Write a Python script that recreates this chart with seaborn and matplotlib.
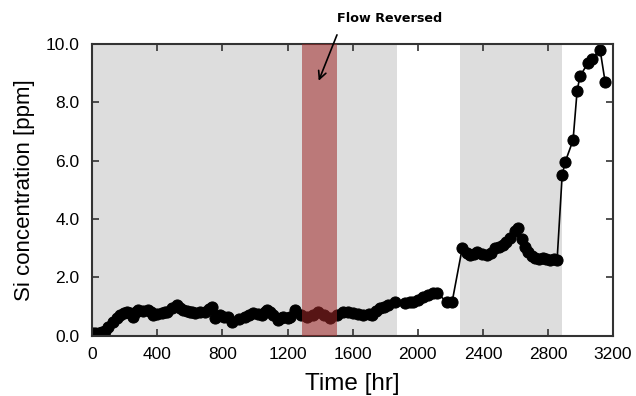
import numpy as np
import pandas as pd
import matplotlib
matplotlib.use("Agg")
import matplotlib.pyplot as plt
import seaborn as sns

# Silicon concentration readings
time_hr = [0, 20, 40, 60, 80, 100, 129, 150, 172, 195, 215, 235, 252, 270, 283, 310,
           344, 360, 375, 400, 430, 445, 461, 490, 522, 540, 559, 580, 602, 615, 633,
           660, 694, 715, 737, 755, 770, 786, 810, 835, 860, 900, 940, 965, 989, 1020,
           1044, 1060, 1075, 1095, 1112, 1142, 1160, 1173, 1200, 1216, 1247, 1280,
           1321, 1355, 1388, 1425, 1462, 1505, 1542, 1570, 1603, 1635, 1665, 1700,
           1720, 1745, 1769, 1795, 1818, 1861, 1923, 1950, 1972, 2000, 2033, 2060,
           2094, 2120, 2180, 2211,
           2273, 2300, 2322, 2345, 2365, 2395, 2426, 2450, 2475, 2500, 2524, 2545,
           2567, 2598, 2617, 2641, 2660, 2678, 2700, 2721, 2745, 2770, 2790, 2813,
           2835, 2856,
           2887, 2905, 2954, 2979, 2997, 3047, 3071, 3120, 3151]
si_ppm = [0.10, 0.10, 0.10, 0.12, 0.15, 0.30, 0.48, 0.62, 0.72, 0.78, 0.82, 0.78, 0.65,
          0.80, 0.89, 0.85, 0.89, 0.80, 0.72, 0.76, 0.79, 0.80, 0.82, 0.95, 1.06, 0.95,
          0.89, 0.85, 0.82, 0.80, 0.79, 0.80, 0.82, 0.92, 1.00, 0.62, 0.68, 0.72, 0.66,
          0.65, 0.48, 0.58, 0.65, 0.72, 0.79, 0.75, 0.72, 0.80, 0.89, 0.80, 0.72, 0.55,
          0.62, 0.65, 0.62, 0.65, 0.89, 0.70,
          0.65, 0.72, 0.82, 0.70, 0.62, 0.72, 0.82, 0.82, 0.79, 0.75, 0.72, 0.75,
          0.72, 0.85, 0.96, 1.00, 1.06, 1.16, 1.13, 1.15, 1.16, 1.22, 1.33, 1.40,
          1.47, 1.45, 1.16, 1.16,
          3.00, 2.85, 2.77, 2.82, 2.87, 2.80, 2.77, 2.85, 3.00, 3.05, 3.10, 3.20,
          3.36, 3.60, 3.70, 3.30, 3.05, 2.88, 2.75, 2.67, 2.62, 2.67, 2.62, 2.60,
          2.62, 2.60,
          5.50, 5.95, 6.70, 8.40, 8.90, 9.36, 9.50, 9.80, 8.70]

df = pd.DataFrame({"Time [hr]": time_hr, "Si concentration [ppm]": si_ppm})

# operating periods (shaded) and the flow reversal window
gray_spans = [(0, 1875), (2260, 2885)]
reversed_span = (1290, 1505)

x_ticks = [0, 400, 800, 1200, 1600, 2000, 2400, 2800, 3200]
y_ticks = [0.0, 2.0, 4.0, 6.0, 8.0, 10.0]

sns.set_style("ticks")
plt.rcParams["font.family"] = ["Liberation Sans", "DejaVu Sans"]
plt.rcParams["text.color"] = "black"
plt.rcParams["axes.labelcolor"] = "black"

fig = plt.figure(figsize=(6.36, 3.96), dpi=100)
ax = fig.add_axes([0.145, 0.152, 0.819, 0.737])

for a, b in gray_spans:
    ax.axvspan(a, b, color="#dddddd", zorder=0, lw=0)

sns.lineplot(data=df, x="Time [hr]", y="Si concentration [ppm]", ax=ax,
             color="black", marker="o", markersize=8, linewidth=1.2,
             markeredgecolor="black", zorder=2)

ax.axvspan(*reversed_span, color="#a02828", alpha=0.55, zorder=3, lw=0)

ax.set_xlim(0, 3200)
ax.set_ylim(0, 10)
ax.set_xticks(x_ticks)
ax.set_yticks(y_ticks)
ax.set_yticklabels([f"{v:.1f}" for v in y_ticks])
ax.tick_params(direction="in", length=5, width=1.2, top=True, right=True,
               labelsize=12.5, colors="#333333", labelcolor="black")
ax.tick_params(axis="x", pad=8)
ax.tick_params(axis="y", pad=9)
for s in ax.spines.values():
    s.set_linewidth(1.5)
    s.set_color("#333333")

ax.set_xlabel("Time [hr]", fontsize=17.5, labelpad=8, color="black")
ax.set_ylabel("Si concentration [ppm]", fontsize=16, labelpad=8, color="black")

ax.text(1830, 10.88, "Flow Reversed", ha="center", va="center", fontsize=9.2,
        fontweight="bold", family="DejaVu Sans", color="black", clip_on=False)
ax.annotate("", xy=(1385, 8.65), xytext=(1510, 10.4),
            arrowprops=dict(arrowstyle="->", color="black", lw=1.2,
                            mutation_scale=14),
            annotation_clip=False)

fig.savefig("out.png", dpi=100)
